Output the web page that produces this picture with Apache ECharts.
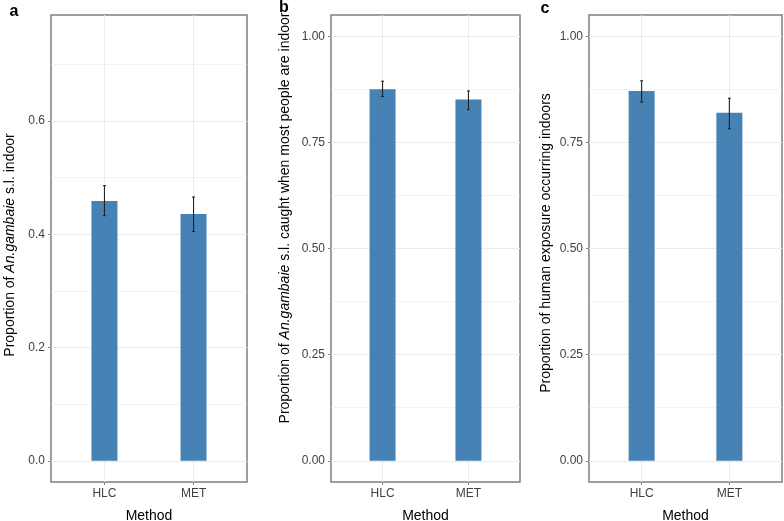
<!DOCTYPE html>
<html>
<head>
<meta charset="utf-8">
<script src="https://cdn.jsdelivr.net/npm/echarts@6/dist/echarts.min.js"></script>
<style>html,body{margin:0;padding:0;background:#fff;}#chart{width:784px;height:521px;}</style>
</head>
<body>
<div id="chart"></div>
<script>
const categories = ['HLC', 'MET'];
const catPos = [0, 1];
// Panel a
const aMean = [0.459, 0.436];
const aLow  = [0.433, 0.405];
const aHigh = [0.486, 0.466];
// Panel b
const bMean = [0.875, 0.851];
const bLow  = [0.858, 0.827];
const bHigh = [0.894, 0.871];
// Panel c
const cMean = [0.871, 0.820];
const cLow  = [0.845, 0.782];
const cHigh = [0.895, 0.854];
// Tick labels
const yTicksA = [0, 0.2, 0.4, 0.6];
const yMinorA = [0.1, 0.3, 0.5, 0.7];
const yTicksBC = [0, 0.25, 0.5, 0.75, 1.0];
const yMinorBC = [0.125, 0.375, 0.625, 0.875];

const FONT = 'Liberation Sans, Arial, sans-serif';
const BORDER = '#7f7f7f';
const GRIDC = '#ebebeb';
const BAR = '#4682b4';

const chart = echarts.init(document.getElementById('chart'));

const grids = [
  {left: 51, top: 15, width: 196, height: 467},
  {left: 331, top: 15, width: 189, height: 467},
  {left: 589, top: 15, width: 193, height: 467}
].map(g => Object.assign({show: true, borderColor: BORDER, borderWidth: 1.5, backgroundColor: 'transparent', containLabel: false, outerBoundsMode: 'none'}, g));

function xAx(i) {
  return {
    type: 'value', gridIndex: i, min: -0.6, max: 1.6, position: 'bottom',
    axisLine: {show: false, onZero: false},
    axisTick: {show: true, length: 3, lineStyle: {color: BORDER}, customValues: catPos},
    axisLabel: {customValues: catPos, formatter: v => categories[Math.round(v)], color: '#404040', fontSize: 12, fontFamily: FONT, margin: 6},
    splitLine: {show: true, lineStyle: {color: GRIDC, width: 1}},
    name: 'Method', nameLocation: 'middle', nameGap: 27,
    nameTextStyle: {color: '#000', fontSize: 14, fontFamily: FONT}
  };
}
function yMajor(i, min, max, ticks, dec) {
  return {
    type: 'value', gridIndex: i, min: min, max: max, position: 'left',
    axisLine: {show: false, onZero: false},
    axisTick: {show: true, length: 3, lineStyle: {color: BORDER}, customValues: ticks},
    axisLabel: {customValues: ticks, formatter: v => v.toFixed(dec), color: '#404040', fontSize: 12, fontFamily: FONT, margin: 6},
    splitLine: {show: true, lineStyle: {color: GRIDC, width: 1}}
  };
}
function yMinor(i, min, max, ticks) {
  return {
    type: 'value', gridIndex: i, min: min, max: max, position: 'left',
    axisLine: {show: false, onZero: false},
    axisTick: {show: false, customValues: ticks},
    axisLabel: {show: false, customValues: ticks},
    splitLine: {show: true, lineStyle: {color: GRIDC, width: 0.6}}
  };
}

function barSeries(i, yi, mean) {
  return {
    type: 'bar', xAxisIndex: i, yAxisIndex: yi, barWidth: 26,
    itemStyle: {color: BAR},
    data: catPos.map((x, k) => [x, mean[k]]),
    z: 3
  };
}
function errSeries(i, yi, low, high) {
  return {
    type: 'custom', xAxisIndex: i, yAxisIndex: yi, z: 5,
    data: catPos.map((x, k) => [x, low[k], high[k]]),
    encode: {x: 0, y: [1, 2]},
    renderItem: function (params, api) {
      const x = api.value(0);
      const p1 = api.coord([x, api.value(1)]);
      const p2 = api.coord([x, api.value(2)]);
      const st = {stroke: '#222', lineWidth: 1.1};
      const hw = 1.5;
      return {type: 'group', children: [
        {type: 'line', shape: {x1: p1[0], y1: p1[1], x2: p2[0], y2: p2[1]}, style: st},
        {type: 'line', shape: {x1: p1[0] - hw, y1: p1[1], x2: p1[0] + hw, y2: p1[1]}, style: st},
        {type: 'line', shape: {x1: p2[0] - hw, y1: p2[1], x2: p2[0] + hw, y2: p2[1]}, style: st}
      ]};
    }
  };
}

const rich = {
  n: {fontSize: 14, fontFamily: FONT, fill: '#000', color: '#000'},
  i: {fontSize: 14, fontFamily: FONT, fontStyle: 'italic', fill: '#000', color: '#000'}
};
function yTitle(x, y, txt) {
  return {
    type: 'text', x: x, y: y, rotation: Math.PI / 2,
    style: {text: txt, rich: rich, align: 'center', verticalAlign: 'middle', font: '14px ' + FONT, fill: '#000'}
  };
}
function letter(x, y, t) {
  return {type: 'text', x: x, y: y, style: {text: t, font: 'bold 16px ' + FONT, fill: '#000', align: 'center', verticalAlign: 'middle'}};
}

chart.setOption({
  animation: false,
  backgroundColor: '#fff',
  grid: grids,
  xAxis: [xAx(0), xAx(1), xAx(2)],
  yAxis: [
    yMajor(0, -0.0375, 0.7875, yTicksA, 1), yMinor(0, -0.0375, 0.7875, yMinorA),
    yMajor(1, -0.05, 1.05, yTicksBC, 2), yMinor(1, -0.05, 1.05, yMinorBC),
    yMajor(2, -0.05, 1.05, yTicksBC, 2), yMinor(2, -0.05, 1.05, yMinorBC)
  ],
  series: [
    barSeries(0, 0, aMean), errSeries(0, 0, aLow, aHigh),
    barSeries(1, 2, bMean), errSeries(1, 2, bLow, bHigh),
    barSeries(2, 4, cMean), errSeries(2, 4, cLow, cHigh)
  ],
  graphic: [
    letter(14, 12, 'a'), letter(284, 8, 'b'), letter(545, 9, 'c'),
    yTitle(10, 245, '{n|Proportion of }{i|An.gambaie}{n| s.l. indoor}'),
    yTitle(285, 218, '{n|Proportion of }{i|An.gambaie}{n| s.l. caught when most people are indoor}'),
    yTitle(546, 243, '{n|Proportion of human exposure occurring indoors}')
  ]
});
</script>
</body>
</html>
